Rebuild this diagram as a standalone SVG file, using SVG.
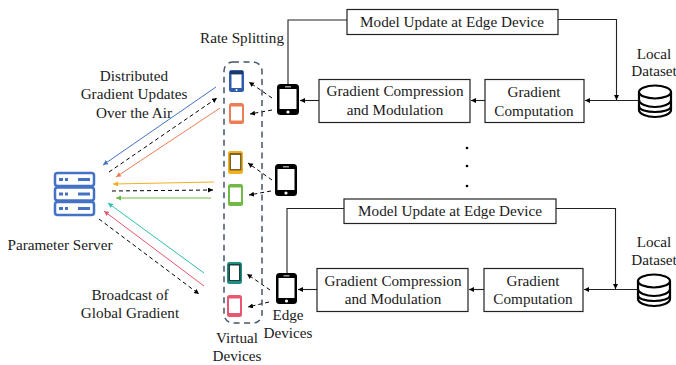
<svg xmlns="http://www.w3.org/2000/svg" width="676" height="365" viewBox="0 0 676 365">
<style>
text{font-family:"Liberation Serif","Times New Roman",serif;font-size:15.2px;fill:#1a1a1a;text-anchor:middle}
.box{fill:#fff;stroke:#222;stroke-width:1.2}
.ln{fill:none;stroke:#222;stroke-width:1.1}
.d{fill:none;stroke:#000;stroke-width:1;stroke-dasharray:4 3;marker-end:url(#ak)}
.c{fill:none;stroke-width:1}
.scr{fill:#fff}
</style>
<defs>
<marker id="ak" markerUnits="userSpaceOnUse" markerWidth="7" markerHeight="7" refX="5" refY="2.500" orient="auto"><path d="M0 0L5 2.500L0 5z" fill="#000"/></marker>
<marker id="ab" markerUnits="userSpaceOnUse" markerWidth="7" markerHeight="7" refX="5" refY="2.500" orient="auto"><path d="M0 0L5 2.500L0 5z" fill="#4472c4"/></marker>
<marker id="ao" markerUnits="userSpaceOnUse" markerWidth="7" markerHeight="7" refX="5" refY="2.500" orient="auto"><path d="M0 0L5 2.500L0 5z" fill="#ed7d55"/></marker>
<marker id="ay" markerUnits="userSpaceOnUse" markerWidth="7" markerHeight="7" refX="5" refY="2.500" orient="auto"><path d="M0 0L5 2.500L0 5z" fill="#f2b01e"/></marker>
<marker id="ag" markerUnits="userSpaceOnUse" markerWidth="7" markerHeight="7" refX="5" refY="2.500" orient="auto"><path d="M0 0L5 2.500L0 5z" fill="#70b944"/></marker>
<marker id="at" markerUnits="userSpaceOnUse" markerWidth="7" markerHeight="7" refX="5" refY="2.500" orient="auto"><path d="M0 0L5 2.500L0 5z" fill="#2fc0b0"/></marker>
<marker id="ar" markerUnits="userSpaceOnUse" markerWidth="7" markerHeight="7" refX="5" refY="2.500" orient="auto"><path d="M0 0L5 2.500L0 5z" fill="#e8566f"/></marker>
</defs>

<g id="connectors">
<path class="ln" d="M288 84V20H347"/>
<path class="ln" d="M558 19.500H616.500V100" marker-end="url(#ak)"/>
<path class="ln" d="M638 100.500H585" marker-end="url(#ak)"/>
<path class="ln" d="M485 100.500H471" marker-end="url(#ak)"/>
<path class="ln" d="M319 100.500H300" marker-end="url(#ak)"/>
<path class="ln" d="M287 273V208.500H344"/>
<path class="ln" d="M556 208.500H615.500V289" marker-end="url(#ak)"/>
<path class="ln" d="M637 289.500H584" marker-end="url(#ak)"/>
<path class="ln" d="M484 289.500H469" marker-end="url(#ak)"/>
<path class="ln" d="M317 289.500H298" marker-end="url(#ak)"/>
<path class="c" stroke="#4472c4" marker-end="url(#ab)" d="M216 87L103 165"/>
<path class="d" d="M109 172L217 98"/>
<path class="c" stroke="#ed7d55" marker-end="url(#ao)" d="M220 108L116 177"/>
<path class="c" stroke="#f2b01e" marker-end="url(#ay)" d="M214 182L113 184"/>
<path class="d" d="M112 191L213 190"/>
<path class="c" stroke="#70b944" marker-end="url(#ag)" d="M211 198H116"/>
<path class="c" stroke="#2fc0b0" marker-end="url(#at)" d="M204 273L108 203"/>
<path class="c" stroke="#e8566f" marker-end="url(#ar)" d="M204 286L104 211"/>
<path class="d" d="M99 219L199 294"/>
<path class="d" d="M272 98L249 82"/>
<path class="d" d="M272 110L250 114"/>
<path class="d" d="M272 180L248 163"/>
<path class="d" d="M271 191L249 195"/>
<path class="d" d="M270 290L247 274"/>
<path class="d" d="M269 302L248 307"/>
</g>

<g id="server" fill="none" stroke="#4472c4" stroke-width="2.500">
<rect x="55" y="173" width="39" height="13" rx="2.500" fill="#fff"/>
<rect x="55" y="187.500" width="39" height="13" rx="2.500" fill="#fff"/>
<rect x="55" y="202" width="39" height="13" rx="2.500" fill="#fff"/>
<g fill="#4472c4" stroke="none">
<rect x="59" y="178" width="4" height="3"/><rect x="65" y="178" width="3" height="3"/><rect x="78" y="178" width="12" height="3"/>
<rect x="59" y="192.500" width="4" height="3"/><rect x="65" y="192.500" width="3" height="3"/><rect x="78" y="192.500" width="12" height="3"/>
<rect x="59" y="207" width="4" height="3"/><rect x="65" y="207" width="3" height="3"/><rect x="78" y="207" width="12" height="3"/>
</g>
</g>

<g id="virtual-group"><rect x="224" y="62" width="38" height="261" rx="9" fill="none" stroke="#44546a" stroke-width="1.500" stroke-dasharray="6 4.500"/></g>

<g id="vd1"><rect x="229" y="70" width="15" height="22" rx="2.500" fill="#2f5dab"/><rect x="230" y="71" width="13" height="3" fill="#1f3864"/><rect class="scr" x="231.500" y="74.500" width="10" height="13.500"/><circle cx="236.500" cy="90" r="1" fill="#fff"/></g>
<g id="vd2"><rect x="229" y="103" width="15" height="21" rx="2.500" fill="#ed7d55"/><rect class="scr" x="231" y="106.500" width="11" height="14"/></g>
<g id="vd3"><rect x="228" y="151" width="15" height="23" rx="2.500" fill="#f2b01e"/><rect x="229.500" y="153" width="12" height="17.500" fill="#7a6326"/><rect class="scr" x="231" y="155" width="9" height="14"/></g>
<g id="vd4"><rect x="228" y="184" width="15" height="22" rx="2.500" fill="#70b944"/><rect class="scr" x="230" y="187.500" width="11" height="14.500"/></g>
<g id="vd5"><rect x="227" y="262" width="15" height="22" rx="2.500" fill="#1f8f86"/><rect x="228.500" y="264" width="12" height="17" fill="#1d3f3c"/><rect class="scr" x="230" y="265.500" width="9" height="14.500"/></g>
<g id="vd6"><rect x="227" y="295" width="15" height="22" rx="2.500" fill="#e8566f"/><rect class="scr" x="229" y="298.500" width="11" height="14.500"/></g>

<g id="ed1"><rect x="277" y="84" width="22" height="31" rx="3.500" fill="#000"/><rect class="scr" x="279.500" y="89" width="17" height="20"/><rect x="285" y="86" width="6" height="1.500" fill="#999"/><circle cx="288" cy="112" r="1.600" fill="#fff"/></g>
<g id="ed2"><rect x="275" y="164" width="22" height="32" rx="3.500" fill="#000"/><rect class="scr" x="277.500" y="169" width="17" height="21"/><rect x="283" y="166" width="6" height="1.500" fill="#999"/><circle cx="286" cy="193" r="1.600" fill="#fff"/></g>
<g id="ed3"><rect x="276" y="273" width="21" height="31" rx="3.500" fill="#000"/><rect class="scr" x="278.500" y="278" width="16" height="20"/><rect x="283.500" y="275" width="6" height="1.500" fill="#999"/><circle cx="286.500" cy="301" r="1.600" fill="#fff"/></g>

<g id="model1"><rect class="box" x="347" y="9.500" width="211" height="25"/><text x="452" y="27">Model Update at Edge Device</text></g>
<g id="compress1"><rect class="box" x="319" y="79.500" width="151" height="43"/><text x="395" y="96">Gradient Compression</text><text x="395" y="115">and Modulation</text></g>
<g id="compute1"><rect class="box" x="485" y="79.500" width="99" height="43"/><text x="534" y="97">Gradient</text><text x="534" y="116">Computation</text></g>
<g id="model2"><rect class="box" x="344" y="199" width="212" height="24.500"/><text x="450" y="216">Model Update at Edge Device</text></g>
<g id="compress2"><rect class="box" x="317" y="268.500" width="151" height="43"/><text x="393" y="286">Gradient Compression</text><text x="393" y="304">and Modulation</text></g>
<g id="compute2"><rect class="box" x="484" y="268.500" width="99" height="43"/><text x="533" y="286">Gradient</text><text x="533" y="304">Computation</text></g>

<g id="dataset1" fill="none" stroke="#000" stroke-width="2.200"><path fill="#fff" d="M639 92V110C639 114 647 117 655 117S671 114 671 110V92"/><ellipse cx="655" cy="92" rx="16" ry="6.500" fill="#fff"/><path d="M639 100C639 104 647 107 655 107S671 104 671 100M639 106C639 110 647 112 655 112S671 110 671 106"/></g>
<g id="dataset2" fill="none" stroke="#000" stroke-width="2.200"><path fill="#fff" d="M638 281V299C638 303 646 306 654 306S670 303 670 299V281"/><ellipse cx="654" cy="281" rx="16" ry="6.500" fill="#fff"/><path d="M638 289C638 293 646 296 654 296S670 293 670 289M638 295C638 299 646 301 654 301S670 299 670 295"/></g>

<g id="dots" fill="#000"><circle cx="467" cy="148" r="1.300"/><circle cx="467" cy="166" r="1.300"/><circle cx="467" cy="186" r="1.300"/></g>

<g id="labels">
<text x="242" y="43">Rate Splitting</text>
<text x="134" y="81">Distributed</text><text x="134" y="99">Gradient Updates</text><text x="134" y="118">Over the Air</text>
<text x="60" y="250">Parameter Server</text>
<text x="130" y="300">Broadcast of</text><text x="130" y="318">Global Gradient</text>
<text x="237" y="343">Virtual</text><text x="237" y="361">Devices</text>
<text x="288" y="320">Edge</text><text x="288" y="338">Devices</text>
<text x="654" y="59">Local</text><text x="654" y="76">Dataset</text>
<text x="654" y="247">Local</text><text x="654" y="265">Dataset</text>
</g>
</svg>
